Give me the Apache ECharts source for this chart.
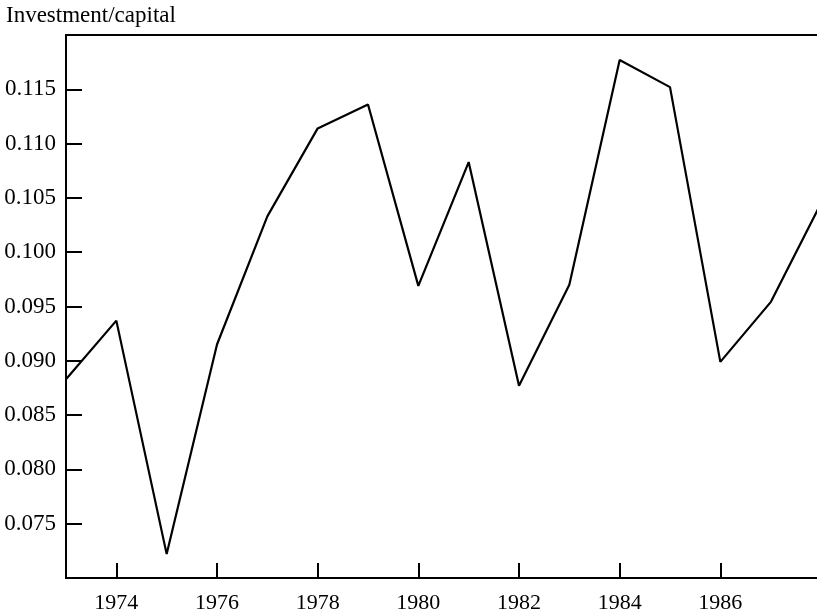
<!DOCTYPE html>
<html>
<head>
<meta charset="utf-8">
<script src="https://cdn.jsdelivr.net/npm/echarts@6/dist/echarts.min.js"></script>
<style>
html,body{margin:0;padding:0;background:#fff;overflow:hidden;}
#chart{width:821px;height:615px;}
</style>
</head>
<body>
<div id="chart"></div>
<script>
// Data
var years = [1973, 1974, 1975, 1976, 1977, 1978, 1979, 1980, 1981, 1982, 1983, 1984, 1985, 1986, 1987, 1988];
var investmentCapital = [0.0883, 0.0937, 0.0722, 0.0915, 0.1033, 0.1114, 0.1136, 0.0969, 0.1083, 0.0877, 0.0970, 0.1177, 0.1152, 0.0899, 0.0954, 0.1045];
var xTickYears = [1974, 1976, 1978, 1980, 1982, 1984, 1986];
var yTickValues = [0.075, 0.080, 0.085, 0.090, 0.095, 0.100, 0.105, 0.110, 0.115];
var yAxisTitle = 'Investment/capital';

var seriesData = years.map(function (y, i) { return [y, investmentCapital[i]]; });

var chart = echarts.init(document.getElementById('chart'), null, {renderer: 'canvas'});
var serif = '"Liberation Serif", "Times New Roman", serif';
chart.setOption({
  backgroundColor: '#ffffff',
  animation: false,
  title: {
    text: yAxisTitle,
    left: 6,
    top: 4,
    padding: 0,
    textStyle: {fontFamily: serif, fontSize: 23, fontWeight: 'normal', color: '#000'}
  },
  grid: {
    left: 66, top: 35, right: 0, bottom: 37,
    show: true, borderColor: '#000', borderWidth: 2, backgroundColor: 'transparent'
  },
  xAxis: {
    type: 'value',
    min: 1973, max: 1988,
    axisLine: {show: true, onZero: false, lineStyle: {color: '#000', width: 2}},
    axisTick: {show: true, inside: true, length: 15, customValues: xTickYears, lineStyle: {color: '#000', width: 2}},
    axisLabel: {
      show: true, customValues: xTickYears, margin: 14,
      fontFamily: serif, fontSize: 22, color: '#000',
      formatter: function (v) { return String(v); }
    },
    splitLine: {show: false}
  },
  yAxis: {
    type: 'value',
    min: 0.070, max: 0.120,
    axisLine: {show: true, onZero: false, lineStyle: {color: '#000', width: 2}},
    axisTick: {show: true, inside: true, length: 16, customValues: yTickValues, lineStyle: {color: '#000', width: 2}},
    axisLabel: {
      show: true, customValues: yTickValues, margin: 10,
      fontFamily: serif, fontSize: 23, color: '#000',
      formatter: function (v) { return v.toFixed(3); }
    },
    splitLine: {show: false}
  },
  series: [{
    type: 'line',
    data: seriesData,
    showSymbol: false,
    symbol: 'none',
    lineStyle: {color: '#000', width: 2.2},
    clip: true
  }]
});
</script>
</body>
</html>
